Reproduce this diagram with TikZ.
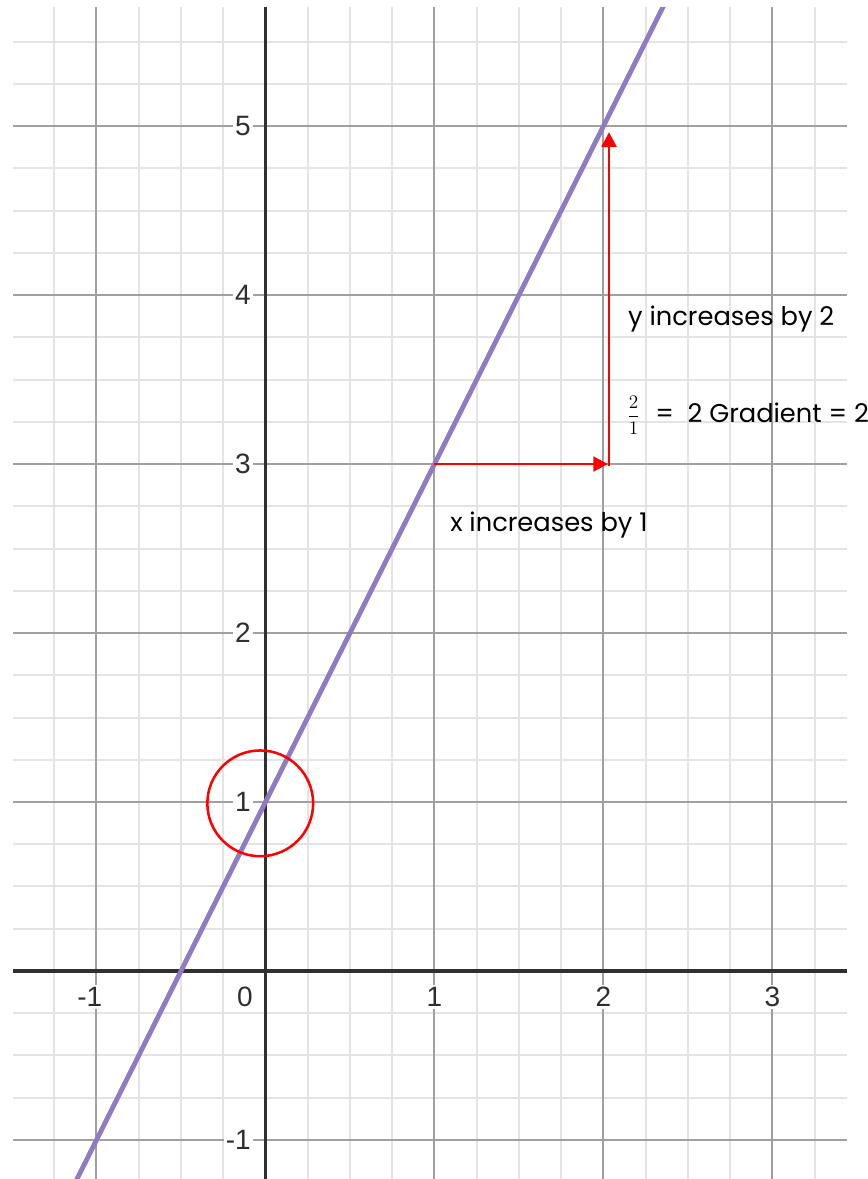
\documentclass[tikz,border=0pt]{standalone}
\usepackage{fontspec}
\newfontfamily\gothicfont{Poppins}
\newfontfamily\arialfont{Liberation Sans}
\usetikzlibrary{arrows.meta}
\definecolor{linepurple}{HTML}{8F7BC2}
\definecolor{majorgrid}{HTML}{A0A0A0}
\definecolor{minorgrid}{HTML}{E4E4E4}
\definecolor{axisdark}{HTML}{303030}
\definecolor{labelgray}{HTML}{2E2E2E}
\definecolor{markred}{HTML}{FF0000}
\begin{document}
\begin{tikzpicture}[x=126.75pt,y=126.75pt,
  minorline/.style={minorgrid,line width=1.5pt},
  majorline/.style={majorgrid,line width=1.5pt},
  axisline/.style={axisdark,line width=2.3pt},
  graphline/.style={linepurple,line width=3.6pt},
  redarrow/.style={markred,line width=2.2pt,-{Triangle[length=11pt,width=11pt]}},
  redring/.style={markred,line width=1.9pt},
  ticklabel/.style={font=\arialfont\fontsize{21}{21}\selectfont,text=labelgray,fill=white,inner sep=1.5pt},
  note/.style={font=\gothicfont\fontsize{19.3}{19.3}\selectfont,text=black,inner sep=0pt,anchor=base west}]
\useasboundingbox (-1.571,-1.231) rectangle (3.565,5.746);
\fill[white] (-1.571,-1.231) rectangle (3.565,5.746);
\begin{scope}
  \clip (-1.494,-1.231) rectangle (3.441,5.704);
  \draw[minorline] (-2,-2) grid[step=0.25] (4,6);
  \draw[majorline] (-2,-2) grid[step=1] (4,6);
  % tick labels
  \node[ticklabel] (xm1) at (-1.04,-0.154) {-1};
  \node[ticklabel] (x0) at (-0.121,-0.154) {0};
  \node[ticklabel] (x1) at (1,-0.154) {1};
  \node[ticklabel] (x2) at (2,-0.154) {2};
  \node[ticklabel] (x3) at (3,-0.154) {3};
  \node[ticklabel,anchor=east] (ym1) at (-0.074,-1) {-1};
  \node[ticklabel,anchor=east] (y1) at (-0.074,1) {1};
  \node[ticklabel,anchor=east] (y2) at (-0.074,2) {2};
  \node[ticklabel,anchor=east] (y3) at (-0.074,3) {3};
  \node[ticklabel,anchor=east] (y4) at (-0.074,4) {4};
  \node[ticklabel,anchor=east] (y5) at (-0.074,5) {5};
  \draw[axisline] (-1.6,0) -- (3.6,0);
  \draw[axisline] (0,-1.3) -- (0,5.8);
  \coordinate (lineStart) at (-1.25,-1.5);
  \coordinate (lineEnd) at (2.45,5.9);
  \draw[graphline] (lineStart) -- (lineEnd);
\end{scope}
% red annotations
\coordinate (runStart) at (1,3);
\coordinate (corner) at (2.027,3);
\coordinate (riseStart) at (2.033,2.99);
\coordinate (riseEnd) at (2.033,4.964);
\draw[redarrow] (runStart) -- (corner);
\draw[redarrow] (riseStart) -- (riseEnd);
\node[redring,draw,circle,minimum size=0.626*126.75pt,inner sep=0pt] (ring) at (-0.031,0.992) {};
% notes
\node[note] (rise) at (2.145,3.822) {y increases by 2};
\node[note] (run) at (1.092,2.598) {x increases by 1};
\node[inner sep=0pt,anchor=west,font=\fontsize{15}{15}\selectfont] (frac) at (2.14,3.29) {$\displaystyle\frac{2}{1}$};
\node[note] (grad) at (2.305,3.243) {=\ \ 2 Gradient = 2};
\end{tikzpicture}
\end{document}
